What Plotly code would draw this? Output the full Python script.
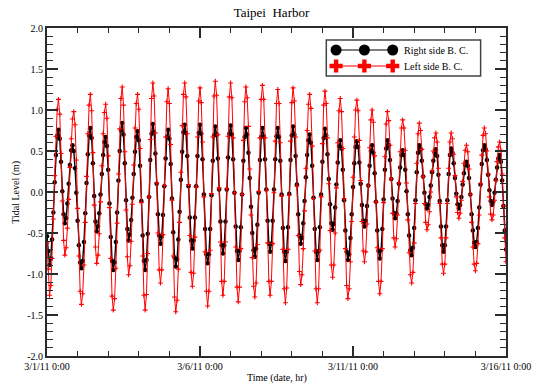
import pandas as pd
import plotly.graph_objects as go

# Hourly tidal level (m) at Taipei Harbor, 3/1/2011 00:00 .. 3/16/2011 00:00
right_side = [
    -0.54, -0.72, -0.89, -0.81, -0.58, -0.25, 0.12, 0.45, 0.68, 0.76, 0.65, 0.37, 0.01, -0.27, -0.38, -0.32, -0.14, 0.10, 0.33, 0.51, 0.57, 0.50, 0.29, -0.01,
    -0.35, -0.65, -0.86, -0.93, -0.84, -0.61, -0.26, 0.11, 0.46, 0.69, 0.78, 0.66, 0.35, -0.05, -0.36, -0.48, -0.42, -0.26, -0.03, 0.22, 0.45, 0.61, 0.67, 0.56,
    0.27, -0.14, -0.55, -0.84, -0.95, -0.86, -0.61, -0.25, 0.14, 0.50, 0.75, 0.84, 0.70, 0.35, -0.10, -0.45, -0.59, -0.52, -0.34, -0.07, 0.22, 0.49, 0.67, 0.74,
    0.63, 0.32, -0.11, -0.53, -0.84, -0.95, -0.83, -0.51, -0.06, 0.39, 0.71, 0.83, 0.73, 0.47, 0.10, -0.27, -0.53, -0.63, -0.54, -0.28, 0.07, 0.41, 0.67, 0.76,
    0.65, 0.34, -0.08, -0.49, -0.80, -0.91, -0.82, -0.58, -0.24, 0.15, 0.49, 0.73, 0.82, 0.72, 0.44, 0.07, -0.31, -0.59, -0.69, -0.59, -0.31, 0.07, 0.44, 0.72,
    0.82, 0.71, 0.40, -0.03, -0.45, -0.76, -0.87, -0.76, -0.45, -0.04, 0.38, 0.69, 0.80, 0.70, 0.41, 0.03, -0.36, -0.65, -0.75, -0.65, -0.36, 0.03, 0.42, 0.71,
    0.81, 0.70, 0.40, -0.01, -0.42, -0.72, -0.83, -0.72, -0.43, -0.03, 0.38, 0.67, 0.78, 0.70, 0.48, 0.17, -0.18, -0.50, -0.71, -0.79, -0.69, -0.40, -0.01, 0.39,
    0.67, 0.78, 0.68, 0.40, 0.03, -0.35, -0.63, -0.73, -0.63, -0.35, 0.03, 0.40, 0.68, 0.78, 0.67, 0.38, -0.03, -0.44, -0.73, -0.84, -0.73, -0.43, -0.02, 0.39,
    0.69, 0.80, 0.70, 0.44, 0.09, -0.27, -0.53, -0.63, -0.56, -0.38, -0.11, 0.18, 0.45, 0.63, 0.70, 0.60, 0.32, -0.07, -0.45, -0.73, -0.83, -0.72, -0.43, -0.03,
    0.37, 0.66, 0.77, 0.69, 0.46, 0.16, -0.15, -0.38, -0.46, -0.39, -0.19, 0.09, 0.36, 0.56, 0.63, 0.53, 0.27, -0.10, -0.47, -0.73, -0.83, -0.76, -0.56, -0.27,
    0.06, 0.35, 0.55, 0.62, 0.55, 0.36, 0.10, -0.16, -0.35, -0.42, -0.35, -0.17, 0.08, 0.32, 0.50, 0.57, 0.48, 0.23, -0.12, -0.47, -0.72, -0.81, -0.71, -0.45,
    -0.09, 0.27, 0.53, 0.63, 0.57, 0.39, 0.16, -0.08, -0.26, -0.32, -0.26, -0.11, 0.10, 0.30, 0.45, 0.51, 0.45, 0.27, 0.01, -0.27, -0.53, -0.71, -0.77, -0.68,
    -0.44, -0.10, 0.24, 0.48, 0.57, 0.52, 0.38, 0.19, -0.01, -0.15, -0.20, -0.16, -0.06, 0.08, 0.24, 0.38, 0.48, 0.52, 0.44, 0.21, -0.11, -0.42, -0.65, -0.73,
    -0.65, -0.42, -0.10, 0.22, 0.45, 0.53, 0.48, 0.35, 0.17, -0.02, -0.15, -0.20, -0.16, -0.06, 0.09, 0.23, 0.33, 0.37, 0.32, 0.17, -0.03, -0.27, -0.47, -0.62,
    -0.67, -0.61, -0.44, -0.19, 0.09, 0.34, 0.51, 0.57, 0.52, 0.39, 0.21, 0.02, -0.11, -0.16, -0.12, -0.01, 0.15, 0.30, 0.41, 0.45, 0.37, 0.14, -0.17, -0.47,
    -0.70,
]

left_side = [
    -0.62, -0.94, -1.26, -1.14, -0.81, -0.33, 0.20, 0.68, 1.01, 1.13, 0.95, 0.47, -0.11, -0.59, -0.77, -0.68, -0.44, -0.09, 0.30, 0.65, 0.89, 0.98, 0.82, 0.39,
    -0.20, -0.78, -1.21, -1.37, -1.24, -0.89, -0.37, 0.19, 0.71, 1.06, 1.19, 0.99, 0.48, -0.16, -0.67, -0.87, -0.77, -0.51, -0.12, 0.32, 0.71, 0.97, 1.07, 0.90,
    0.44, -0.19, -0.81, -1.27, -1.44, -1.30, -0.93, -0.38, 0.22, 0.77, 1.14, 1.28, 1.06, 0.49, -0.22, -0.79, -1.01, -0.90, -0.60, -0.15, 0.33, 0.78, 1.08, 1.19,
    1.01, 0.53, -0.13, -0.78, -1.26, -1.44, -1.25, -0.75, -0.06, 0.64, 1.14, 1.33, 1.17, 0.72, 0.11, -0.50, -0.95, -1.11, -0.95, -0.52, 0.08, 0.67, 1.10, 1.26,
    1.08, 0.58, -0.10, -0.78, -1.28, -1.46, -1.32, -0.94, -0.37, 0.24, 0.81, 1.19, 1.33, 1.16, 0.71, 0.09, -0.53, -0.98, -1.15, -0.99, -0.55, 0.06, 0.67, 1.11,
    1.27, 1.09, 0.61, -0.06, -0.73, -1.21, -1.39, -1.21, -0.71, -0.02, 0.67, 1.17, 1.35, 1.18, 0.70, 0.05, -0.61, -1.09, -1.26, -1.09, -0.61, 0.04, 0.68, 1.16,
    1.33, 1.15, 0.66, -0.01, -0.67, -1.16, -1.34, -1.16, -0.69, -0.03, 0.63, 1.10, 1.28, 1.15, 0.80, 0.28, -0.28, -0.80, -1.15, -1.28, -1.11, -0.64, 0.01, 0.66,
    1.13, 1.30, 1.13, 0.66, 0.02, -0.62, -1.09, -1.26, -1.09, -0.63, -0.01, 0.62, 1.08, 1.25, 1.08, 0.60, -0.05, -0.70, -1.18, -1.35, -1.17, -0.70, -0.04, 0.62,
    1.09, 1.27, 1.11, 0.67, 0.07, -0.53, -0.97, -1.13, -1.01, -0.69, -0.23, 0.29, 0.75, 1.07, 1.19, 1.02, 0.56, -0.08, -0.72, -1.18, -1.35, -1.18, -0.71, -0.06,
    0.59, 1.06, 1.23, 1.08, 0.66, 0.10, -0.47, -0.89, -1.04, -0.89, -0.50, 0.05, 0.60, 0.99, 1.14, 0.98, 0.53, -0.08, -0.69, -1.14, -1.30, -1.18, -0.85, -0.36,
    0.18, 0.67, 1.00, 1.12, 0.99, 0.63, 0.14, -0.36, -0.72, -0.85, -0.73, -0.39, 0.08, 0.54, 0.88, 1.00, 0.85, 0.44, -0.12, -0.68, -1.09, -1.24, -1.09, -0.69,
    -0.13, 0.43, 0.83, 0.98, 0.87, 0.57, 0.16, -0.26, -0.56, -0.67, -0.57, -0.28, 0.11, 0.49, 0.78, 0.88, 0.78, 0.51, 0.11, -0.34, -0.74, -1.01, -1.11, -0.98,
    -0.62, -0.14, 0.35, 0.71, 0.84, 0.75, 0.52, 0.19, -0.14, -0.37, -0.46, -0.40, -0.24, 0.00, 0.26, 0.50, 0.66, 0.72, 0.61, 0.29, -0.14, -0.56, -0.88, -0.99,
    -0.88, -0.56, -0.14, 0.29, 0.61, 0.72, 0.65, 0.46, 0.20, -0.06, -0.25, -0.32, -0.26, -0.10, 0.13, 0.35, 0.51, 0.57, 0.49, 0.28, -0.03, -0.37, -0.67, -0.88,
    -0.96, -0.87, -0.63, -0.28, 0.10, 0.45, 0.69, 0.78, 0.71, 0.50, 0.22, -0.06, -0.27, -0.34, -0.28, -0.10, 0.14, 0.37, 0.55, 0.61, 0.51, 0.22, -0.17, -0.56,
    -0.85,
]

series_names = ["Right side B. C.", "Left side B. C."]
x_tick_dates = ["2011-03-01 00:00", "2011-03-06 00:00", "2011-03-11 00:00", "2011-03-16 00:00"]
x_tick_labels = ["3/1/11 0:00", "3/6/11 0:00", "3/11/11 0:00", "3/16/11 0:00"]
y_tick_values = [2.0, 1.5, 1.0, 0.5, 0.0, -0.5, -1.0, -1.5, -2.0]
y_tick_labels = ["2.0", "1.5", "1.0", "0.5", "0.0", "-0.5", "-1.0", "-1.5", "-2.0"]

times = pd.date_range("2011-03-01 00:00", periods=len(right_side), freq="h")

SERIF = "Liberation Serif, Times New Roman, serif"
AXIS_COLOR = "#2b2b2b"

fig = go.Figure()

fig.add_trace(go.Scatter(
    x=times, y=right_side, mode="lines+markers", name=series_names[0],
    line=dict(color="black", width=1.4),
    marker=dict(symbol="circle", size=4.5, color="black"),
    showlegend=False,
))
fig.add_trace(go.Scatter(
    x=times, y=left_side, mode="lines+markers", name=series_names[1],
    line=dict(color="#ff0000", width=1.0),
    marker=dict(symbol="cross-thin", size=3.5, line=dict(color="#ff0000", width=1.1)),
    showlegend=False,
))

# Hand-drawn legend in an overlay of unit axes
leg_x = [0.6298, 0.6915, 0.7532]
row_y = [0.9329, 0.8841]
fig.add_trace(go.Scatter(
    x=leg_x, y=[row_y[0]] * 3, xaxis="x2", yaxis="y2", mode="lines+markers",
    line=dict(color="black", width=1.2),
    marker=dict(symbol="circle", size=11, color="black"),
    showlegend=False, hoverinfo="skip",
))
fig.add_trace(go.Scatter(
    x=leg_x, y=[row_y[1]] * 3, xaxis="x2", yaxis="y2", mode="lines+markers",
    line=dict(color="#ff0000", width=1.2),
    marker=dict(symbol="cross", size=11, color="#ff0000"),
    showlegend=False, hoverinfo="skip",
))

fig.add_shape(type="rect", xref="paper", yref="paper",
              x0=0.6085, x1=0.9447, y0=0.8537, y1=0.9634,
              line=dict(color="#444444", width=1.5), fillcolor="white", layer="below")

for name, yy in zip(series_names, row_y):
    fig.add_annotation(text=name, xref="paper", yref="paper", x=0.7745, y=yy,
                       xanchor="left", yanchor="middle", showarrow=False,
                       font=dict(family=SERIF, size=10, color="black"))

fig.add_annotation(text="Time (date, hr)", xref="paper", yref="paper", x=0.5, y=-0.067,
                   xanchor="center", yanchor="middle", showarrow=False,
                   font=dict(family=SERIF, size=10, color="black"))
fig.add_annotation(text="Tidal Level (m)", xref="paper", yref="paper", x=-0.068, y=0.5,
                   xanchor="center", yanchor="middle", textangle=-90, showarrow=False,
                   font=dict(family=SERIF, size=10, color="black"))

fig.update_layout(
    width=543, height=387, autosize=False,
    margin=dict(l=47, r=26, t=28, b=31),
    paper_bgcolor="white", plot_bgcolor="white",
    title=dict(text="Taipei\u00a0 Harbor", x=0.5, xref="container", xanchor="center",
               y=1 - 12 / 387, yref="container", yanchor="middle",
               font=dict(family=SERIF, size=13, color="black")),
    font=dict(family=SERIF, size=10, color="black"),
    xaxis=dict(
        type="date", range=[x_tick_dates[0], x_tick_dates[-1]],
        tickmode="array", tickvals=x_tick_dates, ticktext=x_tick_labels,
        ticks="inside", ticklen=10, tickwidth=1.5, tickcolor=AXIS_COLOR,
        minor=dict(dtick=86400000, tick0=x_tick_dates[0], ticks="inside", ticklen=5,
                   tickwidth=1.2, tickcolor=AXIS_COLOR, showgrid=False),
        showline=True, linewidth=2, linecolor=AXIS_COLOR, mirror="allticks",
        showgrid=False, zeroline=False,
        tickfont=dict(family=SERIF, size=10, color="black"),
    ),
    yaxis=dict(
        range=[-2, 2], tickmode="array", tickvals=y_tick_values, ticktext=y_tick_labels,
        ticks="inside", ticklen=11, tickwidth=1.5, tickcolor=AXIS_COLOR,
        minor=dict(dtick=0.1, tick0=0, ticks="inside", ticklen=6,
                   tickwidth=1.2, tickcolor=AXIS_COLOR, showgrid=False),
        showline=True, linewidth=2, linecolor=AXIS_COLOR, mirror="allticks",
        showgrid=False, zeroline=False,
        tickfont=dict(family=SERIF, size=10, color="black"),
    ),
    xaxis2=dict(overlaying="x", range=[0, 1], visible=False, fixedrange=True),
    yaxis2=dict(overlaying="y", range=[0, 1], visible=False, fixedrange=True),
)

fig.write_html("out.html")
